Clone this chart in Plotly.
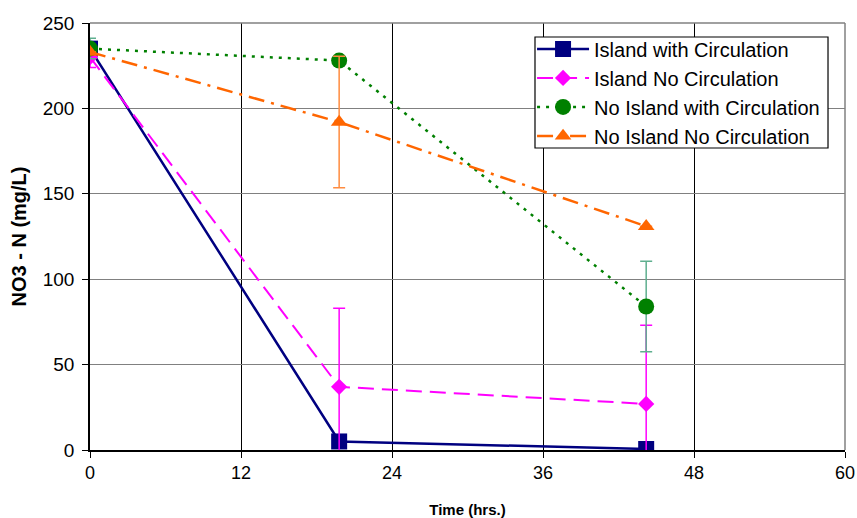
import plotly.graph_objects as go

time_hrs = [0, 19.8, 44.2]
island_circ = [235, 5, 0.6]
island_no_circ = [230, 37, 27]
island_no_circ_err = [6, 46, 46]
no_island_circ = [235, 228, 84]
no_island_circ_err = [6, 0, 26.5]
no_island_no_circ = [233, 192, 131]
no_island_no_circ_err = [0, 38.5, 0]

x_ticks = [0, 12, 24, 36, 48, 60]
y_ticks = [0, 50, 100, 150, 200, 250]

fig = go.Figure()

fig.add_trace(go.Scatter(
    x=time_hrs, y=island_circ, name="Island with Circulation", mode="lines+markers",
    line=dict(color="#000080", width=2.5, dash="solid"),
    marker=dict(symbol="square", size=16, color="#000080"),
))
fig.add_trace(go.Scatter(
    x=time_hrs, y=island_no_circ, name="Island No Circulation", mode="lines+markers",
    line=dict(color="#FF00FF", width=2, dash="16px,8px"),
    marker=dict(symbol="diamond", size=12.5, color="#FF00FF"),
    error_y=dict(type="data", array=island_no_circ_err, color="#FF00FF", thickness=1.5, width=6),
))
fig.add_trace(go.Scatter(
    x=time_hrs, y=no_island_circ, name="No Island with Circulation", mode="lines+markers",
    line=dict(color="#008000", width=2.5, dash="3px,6px"),
    marker=dict(symbol="circle", size=16, color="#008000"),
    error_y=dict(type="data", array=no_island_circ_err, color="#5FAF8F", thickness=1.5, width=6),
))
fig.add_trace(go.Scatter(
    x=time_hrs, y=no_island_no_circ, name="No Island No Circulation", mode="lines+markers",
    line=dict(color="#FF6600", width=2.5, dash="16px,7px,3px,7px"),
    marker=dict(symbol="triangle-up", size=14.5, color="#FF6600"),
    error_y=dict(type="data", array=no_island_no_circ_err, color="#FF8C40", thickness=1.5, width=6),
))

fig.update_layout(
    width=857, height=518,
    margin=dict(l=90, r=12, t=23, b=68),
    paper_bgcolor="white", plot_bgcolor="white",
    font=dict(family="Liberation Sans, Arial, sans-serif", size=17, color="black"),
    showlegend=True,
    legend=dict(
        x=0.5855, y=0.985, xanchor="left", yanchor="top",
        bgcolor="rgba(0,0,0,0)", borderwidth=0,
        font=dict(size=20), tracegroupgap=0, itemwidth=52,
    ),
    xaxis=dict(
        range=[0, 60], tickvals=x_ticks, ticktext=[str(v) for v in x_ticks],
        tickfont=dict(family="Liberation Sans Narrow, Arial Narrow, sans-serif", size=18),
        showgrid=True, gridcolor="black", gridwidth=1,
        showline=True, linecolor="black", linewidth=1.5,
        ticks="outside", ticklen=6, tickcolor="black",
        mirror=False, zeroline=False, automargin=False,
        title=dict(text="<b>Time (hrs.)</b>", font=dict(family="Liberation Sans Narrow, Arial Narrow, sans-serif", size=15), standoff=22),
    ),
    yaxis=dict(
        range=[0, 250], tickvals=y_ticks, ticktext=[str(v) for v in y_ticks],
        tickfont=dict(size=19),
        showgrid=True, gridcolor="#808080", gridwidth=1,
        showline=True, linecolor="black", linewidth=1.5,
        ticks="outside", ticklen=6, tickcolor="black", ticklabelstandoff=4,
        zeroline=False, automargin=False,
        title=dict(text="<b>NO3 - N (mg/L)</b>", font=dict(family="Liberation Sans, Arial, sans-serif", size=20), standoff=11),
    ),
    shapes=[
        dict(type="line", xref="paper", yref="paper", x0=0, x1=1, y0=1, y1=1, line=dict(color="#808080", width=1.5)),
        dict(type="line", xref="paper", yref="paper", x0=1, x1=1, y0=0, y1=1, line=dict(color="#808080", width=1.5)),
        dict(type="rect", xref="paper", yref="paper", x0=0.5894, x1=0.9775, y0=0.7073, y1=0.9672,
             fillcolor="white", line=dict(color="black", width=1.2), layer="above"),
    ],
)

fig.write_html(
    "out.html",
    config={"displayModeBar": False},
    post_script="document.body.style.margin='0';document.body.style.overflow='hidden';",
)
